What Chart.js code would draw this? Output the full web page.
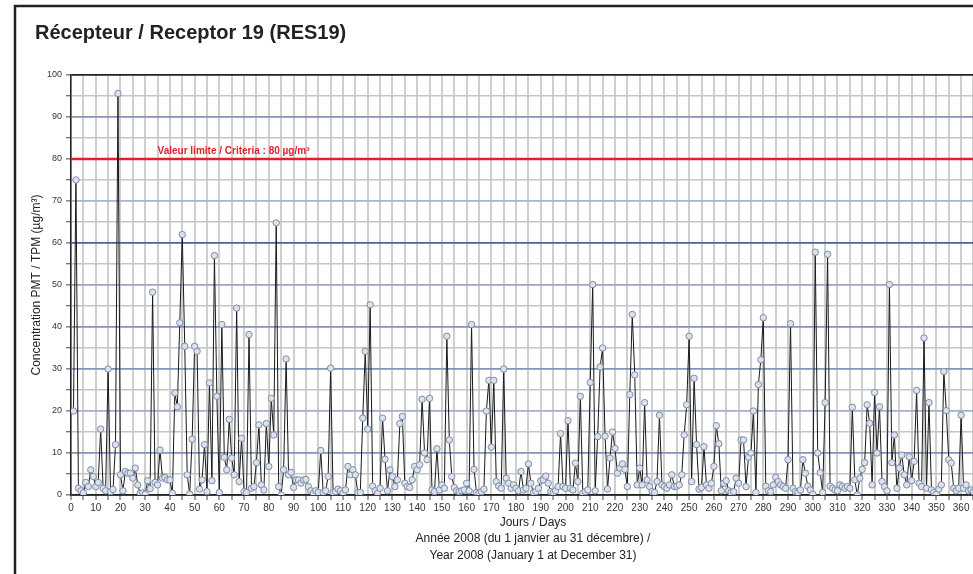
<!DOCTYPE html>
<html lang="fr">
<head>
<meta charset="utf-8">
<title>Récepteur / Receptor 19 (RES19)</title>
<script src="https://cdn.jsdelivr.net/npm/chart.js@4.4.1/dist/chart.umd.min.js"></script>
<style>
    html, body { margin: 0; padding: 0; background: #fff; }
    #wrap { width: 973px; height: 574px; overflow: hidden; position: relative; }
    #wrap canvas { display: block; }
</style>
</head>
<body>
<div id="wrap"><canvas id="graficaRes19" width="1000" height="574"></canvas></div>
<script>
// --- DONNÉES ---
const chartTitle = 'Récepteur / Receptor 19 (RES19)';
const yTitle = 'Concentration PMT / TPM (µg/m³)';
const xTitle = ['Jours / Days', 'Année 2008 (du 1 janvier au 31 décembre) /', 'Year 2008 (January 1 at December 31)'];
const criteriaLabel = 'Valeur limite / Criteria : 80 µg/m³';
const criteriaValue = 80;

// concentration journalière, jour 1 à 366
const values = [
    20, 75, 1.6, 1, 0.5, 3, 2, 6, 4.4, 2,
    3, 15.7, 1.6, 1, 30, 0.8, 1.3, 12, 95.6, 4.8,
    1, 5.6, 5.2, 5.2, 4, 6.4, 2.4, 0.4, 0.5, 0.2,
    3.4, 1.5, 48.3, 3, 2.4, 10.7, 4, 4.2, 3.6, 3.6,
    0.4, 24.3, 21, 41, 62, 35.4, 4.8, 0.2, 13.3, 35.4,
    34.2, 1.4, 3.6, 12, 0.8, 26.7, 3.4, 57, 23.5, 0.6,
    40.6, 9, 6, 18, 8.8, 4.8, 44.5, 3.2, 13.5, 0.8,
    0.6, 38.2, 1.6, 2, 7.7, 16.7, 2.4, 1.2, 17, 6.8,
    23, 14.3, 64.8, 2, 0, 6, 32.4, 4.8, 5.4, 1.8,
    3.6, 3.6, 2.8, 3.6, 3.7, 2, 1, 0.4, 1, 0.6,
    10.6, 0.6, 1, 4.4, 30.2, 0.6, 0.8, 1.4, 1, 0.4,
    1.2, 6.8, 4.8, 6, 4.8, 0.6, 0.6, 18.3, 34.2, 15.7,
    45.3, 2.1, 1, 0.4, 1.6, 18.3, 8.5, 1, 6, 4.4,
    2, 3.6, 17, 18.7, 2.8, 2, 1.8, 3.6, 6.8, 6,
    7.2, 22.8, 10, 8.4, 23, 1.2, 0.8, 11, 1.2, 2.4,
    1.6, 37.8, 13.1, 4.4, 1.8, 1, 0.8, 1, 1.2, 2.8,
    1, 40.6, 6.1, 0.6, 0.4, 0.8, 1.4, 20, 27.3, 11.4,
    27.3, 3.2, 2.1, 1.6, 30, 4, 2.8, 1.6, 2.4, 1.6,
    1, 5.6, 1.2, 1.6, 7.4, 2.8, 0.6, 0.8, 1.6, 3.4,
    3.6, 4.5, 2.8, 0.8, 0.6, 1, 2, 14.6, 2, 1.6,
    17.7, 1.6, 1.2, 7.6, 3.2, 23.5, 0.4, 0.8, 1.2, 26.8,
    50.1, 1, 13.9, 30.5, 35, 14, 1.4, 8.8, 15, 11.1,
    5.2, 6.4, 7.4, 6.1, 2, 23.9, 43, 28.6, 2.4, 6.4,
    2.4, 22, 3.6, 2, 0.8, 0.6, 3.2, 19, 2.4, 2,
    1.6, 2.4, 4.8, 2, 2.1, 2.4, 4.8, 14.3, 21.5, 37.8,
    3.2, 27.8, 12, 1.4, 1.8, 11.5, 2.4, 1.6, 2.8, 6.8,
    16.5, 12.2, 1, 2.8, 3.4, 1, 0.6, 0.8, 4, 2.8,
    13.1, 13.1, 2, 9, 10, 20, 0.6, 26.3, 32.2, 42.2,
    2.1, 1, 0.8, 2.4, 4.2, 3.2, 2.4, 2, 1.6, 8.4,
    40.8, 1.6, 0.8, 0.6, 1.2, 8.4, 5.2, 2.1, 1.2, 0.2,
    57.8, 10, 5.3, 0.6, 22, 57.3, 2.1, 1.6, 1.2, 1,
    2.4, 2, 1.6, 2, 1.6, 20.9, 3.6, 0, 4, 6.1,
    7.7, 21.5, 17.1, 2.4, 24.4, 10, 21, 3.2, 2, 1,
    50.1, 7.7, 14.3, 1.6, 6.4, 9.5, 4.8, 2.4, 9.1, 3.4,
    8, 24.9, 2.8, 2, 37.4, 1.6, 22, 1.2, 0.6, 0.2,
    1.4, 2.4, 29.4, 20.1, 8.4, 7.6, 1.6, 1, 1.6, 19,
    1.6, 2.4, 1, 1.2, 0.8, 1
];
const days = values.map((v, i) => i + 1);

const xMin = 0, xMax = 373.7;
const yMin = 0, yMax = 100;

// couleurs des lignes horizontales (tous les 10)
const hLineColors = {
    10: '#8394b8', 20: '#a3aecb', 30: '#8394b8', 40: '#8394b8', 50: '#a69ecb',
    60: '#4c6494', 70: '#a8b4d0', 80: '#a3aecb', 90: '#8394b8', 100: '#222222'
};

// --- cadre + titre + étiquette de la valeur limite ---
const decorPlugin = {
    id: 'decor',
    beforeDraw(chart) {
        const ctx = chart.ctx;
        ctx.save();
        ctx.fillStyle = '#fff';
        ctx.fillRect(0, 0, chart.width, chart.height);
        ctx.strokeStyle = '#222';
        ctx.lineWidth = 2.5;
        ctx.strokeRect(15, 6, chart.width + 20, chart.height + 20);
        ctx.fillStyle = '#222';
        ctx.font = 'bold 20px Arial, "Liberation Sans", sans-serif';
        ctx.textBaseline = 'middle';
        ctx.fillText(chartTitle, 35, 33);
        ctx.restore();
    },
    afterDatasetsDraw(chart) {
        const ctx = chart.ctx;
        const xs = chart.scales.x, ys = chart.scales.y;
        ctx.save();
        ctx.fillStyle = '#e3202a';
        ctx.font = 'bold 10px Arial, "Liberation Sans", sans-serif';
        ctx.textBaseline = 'middle';
        ctx.fillText(criteriaLabel, xs.getPixelForValue(35), ys.getPixelForValue(criteriaValue) - 8);
        ctx.restore();
    }
};

document.addEventListener('DOMContentLoaded', function () {
    const ctx = document.getElementById('graficaRes19').getContext('2d');
    new Chart(ctx, {
        type: 'line',
        data: {
            datasets: [{
                label: 'PMT / TPM',
                data: days.map((d, i) => ({ x: d, y: values[i] })),
                borderColor: '#1a1a1a',
                borderWidth: 1,
                pointRadius: 3.2,
                pointBorderWidth: 1,
                pointBorderColor: '#7d8ca6',
                pointBackgroundColor: '#dce2ec',
                tension: 0,
                order: 1
            }, {
                label: 'Criteria',
                data: [{ x: xMin, y: criteriaValue }, { x: xMax, y: criteriaValue }],
                borderColor: '#e3202a',
                borderWidth: 2.5,
                pointRadius: 0,
                order: 2
            }]
        },
        options: {
            responsive: false,
            animation: false,
            layout: { padding: { left: 28, top: 75, right: 0, bottom: 0 } },
            plugins: {
                legend: { display: false },
                tooltip: { enabled: false }
            },
            scales: {
                x: {
                    type: 'linear',
                    min: xMin,
                    max: xMax,
                    afterFit: s => { s.height = 79; },
                    ticks: {
                        stepSize: 5,
                        includeBounds: false,
                        autoSkip: false,
                        maxRotation: 0,
                        padding: 2,
                        color: '#333',
                        font: { family: 'Arial, "Liberation Sans", sans-serif', size: 10 },
                        callback: v => (v % 10 === 0 ? v : '')
                    },
                    grid: {
                        color: '#cfcfcf',
                        lineWidth: 2,
                        tickLength: 5,
                        tickColor: '#444',
                        tickWidth: 1
                    },
                    border: { display: true, color: '#222', width: 1.5 },
                    title: {
                        display: true,
                        text: xTitle,
                        color: '#222',
                        font: { family: 'Arial, "Liberation Sans", sans-serif', size: 12, lineHeight: 1.38 },
                        padding: { top: 0, bottom: 10 }
                    }
                },
                y: {
                    min: yMin,
                    max: yMax,
                    afterFit: s => { s.width = 43; },
                    ticks: {
                        stepSize: 5,
                        padding: 4,
                        color: '#333',
                        font: { family: 'Arial, "Liberation Sans", sans-serif', size: 9 },
                        callback: v => (v % 10 === 0 ? v : '')
                    },
                    grid: {
                        color: c => (c.tick && c.tick.value % 10 === 0 ? (hLineColors[c.tick.value] || '#222') : '#c4c4c4'),
                        lineWidth: c => (c.tick && c.tick.value % 10 === 0 ? 1.8 : 1.5),
                        tickLength: 5,
                        tickColor: '#444',
                        tickWidth: 1
                    },
                    border: { display: true, color: '#222', width: 1.5 },
                    title: {
                        display: true,
                        text: yTitle,
                        color: '#222',
                        font: { family: 'Arial, "Liberation Sans", sans-serif', size: 12 },
                        padding: { top: 1, bottom: 0 }
                    }
                }
            }
        },
        plugins: [decorPlugin]
    });
});
</script>
</body>
</html>
